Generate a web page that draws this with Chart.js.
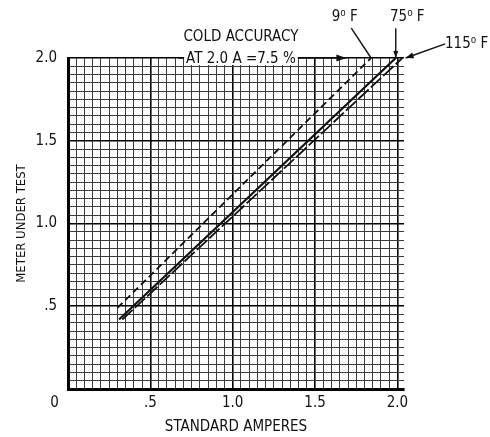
<!DOCTYPE html>
<html><head><meta charset="utf-8">
<script src="https://cdn.jsdelivr.net/npm/chart.js@4"></script>
<style>html,body{margin:0;padding:0;background:#fff}</style>
</head><body>
<canvas id="c" width="490" height="437"></canvas>
<script>
// ---- data ----
const seriesNames = ['9⁰ F', '75⁰ F', '115⁰ F'];
const amps9 = [0.30, 1.84];
const meter9 = [0.49, 2.0];
const amps75 = [0.31, 1.99];
const meter75 = [0.42, 2.0];
const amps115 = [0.33, 2.03];
const meter115 = [0.42, 2.0];
const xTickLabels = {0: '0', 50: '.5', 100: '1.0', 150: '1.5', 200: '2.0'};
const yTickLabels = {50: '.5', 100: '1.0', 150: '1.5', 200: '2.0'};
const xTitle = 'STANDARD AMPERES';
const yTitle = 'METER UNDER TEST';
const noteLine1 = 'COLD ACCURACY';
const noteLine2 = 'AT 2.0 A =7.5 %';

const FONT = "'Liberation Sans Narrow','DejaVu Sans Condensed','Arial Narrow',sans-serif";
const INK = '#111';

function pts(xs, ys) { return xs.map((x, i) => ({x: x, y: ys[i]})); }
function gridTicks(maxHundredths) {
  const t = [];
  for (let k = 0; k <= maxHundredths; k += 5) t.push({value: k / 100});
  return t;
}

function arrowHead(ctx, x0, y0, x1, y1, len, wid) {
  const a = Math.atan2(y1 - y0, x1 - x0);
  ctx.beginPath();
  ctx.moveTo(x1, y1);
  ctx.lineTo(x1 - len * Math.cos(a) + wid * Math.sin(a), y1 - len * Math.sin(a) - wid * Math.cos(a));
  ctx.lineTo(x1 - len * Math.cos(a) - wid * Math.sin(a), y1 - len * Math.sin(a) + wid * Math.cos(a));
  ctx.closePath();
  ctx.fill();
}

const annotations = {
  id: 'annotations',
  afterDraw(chart) {
    const ctx = chart.ctx, xs = chart.scales.x, ys = chart.scales.y;
    const px = v => xs.getPixelForValue(v), py = v => ys.getPixelForValue(v);
    ctx.save();
    ctx.fillStyle = INK; ctx.strokeStyle = INK;
    ctx.font = "15px " + FONT;
    ctx.textAlign = 'center'; ctx.textBaseline = 'middle';
    // note
    ctx.fillText(noteLine1, px(1.05), py(2.125));
    const w2 = ctx.measureText(noteLine2).width;
    const cx2 = px(1.05), cy2 = py(2.0);
    ctx.lineWidth = 1.6;
    ctx.beginPath(); ctx.moveTo(px(0.67), cy2); ctx.lineTo(px(1.69), cy2); ctx.stroke();
    ctx.fillStyle = '#fff';
    ctx.fillRect(cx2 - w2 / 2 - 2, cy2 - 8, w2 + 4, 15);
    ctx.fillStyle = INK;
    ctx.fillText(noteLine2, cx2, cy2 + 1);
    arrowHead(ctx, px(1.5), cy2, px(1.69), cy2, 10, 3.5);
    // temperature labels
    ctx.fillText(seriesNames[0], px(1.68), py(2.25));
    ctx.fillText(seriesNames[1], px(2.06), py(2.25));
    ctx.fillText(seriesNames[2], px(2.42), py(2.085));
    ctx.lineWidth = 1.4;
    // 9F leader
    ctx.beginPath(); ctx.moveTo(px(1.72), py(2.18)); ctx.lineTo(px(amps9[1]), py(meter9[1])); ctx.stroke();
    // 75F leader
    ctx.beginPath(); ctx.moveTo(px(amps75[1]), py(2.18)); ctx.lineTo(px(amps75[1]), py(meter75[1])); ctx.stroke();
    arrowHead(ctx, px(amps75[1]), py(2.18), px(amps75[1]), py(meter75[1]), 7, 2.5);
    // 115F leader
    ctx.beginPath(); ctx.moveTo(px(2.29), py(2.085)); ctx.lineTo(px(amps115[1] + 0.02), py(meter115[1])); ctx.stroke();
    arrowHead(ctx, px(2.29), py(2.085), px(amps115[1] + 0.02), py(meter115[1]), 8, 3);
    ctx.restore();
  }
};

const isMajor = v => Math.round(v * 100) % 50 === 0;

new Chart(document.getElementById('c'), {
  type: 'scatter',
  data: {
    datasets: [
      {label: seriesNames[0], data: pts(amps9, meter9), showLine: true, borderColor: INK, borderWidth: 1.8, borderDash: [7, 4], pointRadius: 0},
      {label: seriesNames[1], data: pts(amps75, meter75), showLine: true, borderColor: INK, borderWidth: 2.2, pointRadius: 0},
      {label: seriesNames[2], data: pts(amps115, meter115), showLine: true, borderColor: INK, borderWidth: 1.8, borderDash: [14, 3], pointRadius: 0}
    ]
  },
  options: {
    responsive: false, animation: false, devicePixelRatio: 1,
    layout: {padding: {top: 58, right: 86, left: 0, bottom: 0}},
    plugins: {legend: {display: false}, tooltip: {enabled: false}},
    scales: {
      x: {
        type: 'linear', min: 0, max: 2.04,
        afterBuildTicks: s => { s.ticks = gridTicks(200); },
        afterFit: s => { s.height = 48; },
        ticks: {
          autoSkip: false, maxRotation: 0, padding: 5,
          color: INK, font: {family: FONT, size: 15},
          callback: v => { const k = Math.round(v * 100); if (k === 0) return '0' + '\u2002'.repeat(4); return xTickLabels[k] || ''; }
        },
        grid: {
          drawTicks: false,
          color: c => isMajor(c.tick.value) ? '#000' : '#3a3a3a',
          lineWidth: c => isMajor(c.tick.value) ? 1.6 : 1
        },
        border: {display: true, color: '#000', width: 3},
        title: {display: true, text: xTitle, color: INK, font: {family: FONT, size: 15}, padding: {top: 0, bottom: 1}}
      },
      y: {
        type: 'linear', min: 0, max: 2.0,
        afterBuildTicks: s => { s.ticks = gridTicks(200); },
        afterFit: s => { s.width = 68; },
        ticks: {
          autoSkip: false, padding: 11,
          color: INK, font: {family: FONT, size: 15},
          callback: v => yTickLabels[Math.round(v * 100)] || ''
        },
        grid: {
          drawTicks: false,
          color: c => isMajor(c.tick.value) ? '#000' : '#3a3a3a',
          lineWidth: c => isMajor(c.tick.value) ? 1.6 : 1
        },
        border: {display: true, color: '#000', width: 3},
        title: {display: true, text: yTitle, color: INK, font: {family: FONT, size: 13}, padding: {top: 14, bottom: 0}}
      }
    }
  },
  plugins: [annotations]
});
</script>
</body></html>
